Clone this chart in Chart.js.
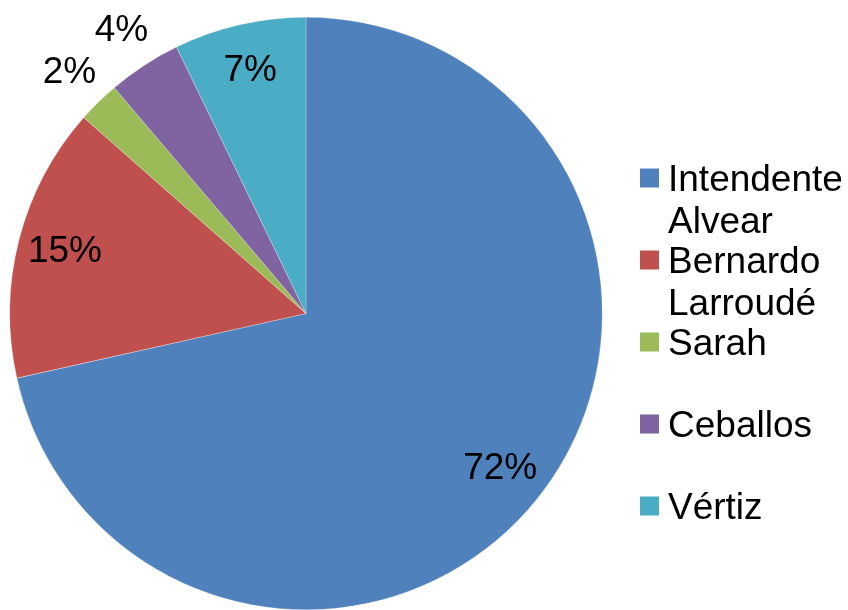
<!DOCTYPE html>
<html lang="es">
<head>
    <meta charset="UTF-8">
    <title>Distribución</title>
    <script src="https://cdn.jsdelivr.net/npm/chart.js"></script>
    <style>
        body {
            margin: 0;
            background: #fff;
        }
        #box {
            width: 848px;
            height: 610px;
        }
    </style>
</head>
<body>
    <div id="box">
        <canvas id="pieChart" width="848" height="610"></canvas>
    </div>

    <script>
        const categories = ["Intendente\nAlvear", "Bernardo\nLarroudé", "Sarah", "Ceballos", "Vértiz"];
        const shares = [71.5, 15.0, 2.3, 4.0, 7.2];
        const colors = ["#4F81BD", "#C0504D", "#9BBB59", "#8064A2", "#4BACC6"];

        const FONT = "37px 'Liberation Sans', Arial, sans-serif";

        // percentages: inside the slice, or just outside for the thin ones
        const pctLabels = {
            id: "pctLabels",
            afterDatasetsDraw(chart) {
                const ctx = chart.ctx;
                const meta = chart.getDatasetMeta(0);
                const total = shares.reduce((a, b) => a + b, 0);
                ctx.save();
                ctx.font = FONT;
                ctx.fillStyle = "#000";
                ctx.textAlign = "center";
                ctx.textBaseline = "middle";
                meta.data.forEach((arc, i) => {
                    const pct = Math.round(shares[i] / total * 100);
                    const mid = (arc.startAngle + arc.endAngle) / 2;
                    const f = pct < 5 ? 1.14 : 0.84;
                    const r = arc.outerRadius * f;
                    ctx.fillText(pct + "%", arc.x + Math.cos(mid) * r, arc.y + Math.sin(mid) * r);
                });
                ctx.restore();
            }
        };

        // legend on the right, labels can wrap onto two lines
        const sideLegend = {
            id: "sideLegend",
            afterDraw(chart) {
                const ctx = chart.ctx;
                const left = 640, box = 19, step = 82, top = 178, lineH = 42;
                ctx.save();
                ctx.font = FONT;
                ctx.textAlign = "left";
                ctx.textBaseline = "alphabetic";
                chart.data.labels.forEach((lbl, i) => {
                    const cy = top + i * step;
                    ctx.fillStyle = colors[i];
                    ctx.fillRect(left, cy - box / 2, box, box);
                    ctx.fillStyle = "#000";
                    lbl.split("\n").forEach((line, j) => {
                        ctx.fillText(line, left + 28, cy + 13 + j * lineH);
                    });
                });
                ctx.restore();
            }
        };

        new Chart(document.getElementById("pieChart"), {
            type: "pie",
            data: {
                labels: categories,
                datasets: [{
                    data: shares,
                    backgroundColor: colors,
                    borderColor: "rgba(255,255,255,0.5)",
                    borderWidth: 0.5
                }]
            },
            options: {
                responsive: false,
                animation: false,
                layout: {
                    padding: { left: 9, top: 17, right: 245, bottom: 0 }
                },
                plugins: {
                    legend: { display: false },
                    tooltip: { enabled: false }
                }
            },
            plugins: [pctLabels, sideLegend]
        });
    </script>
</body>
</html>
